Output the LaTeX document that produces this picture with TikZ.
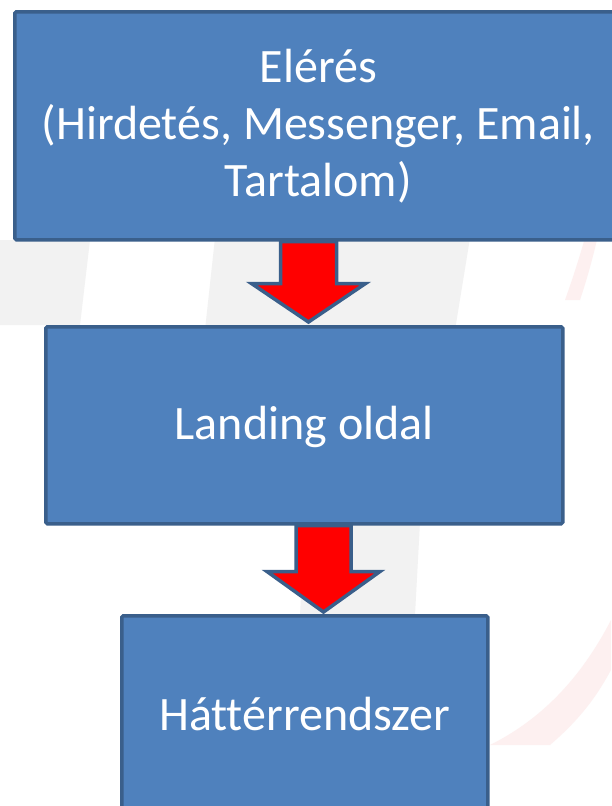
\documentclass[tikz,border=0pt]{standalone}
\usepackage{fontspec}
\setmainfont{Carlito}[Ligatures=NoCommon]
\usetikzlibrary{calc}
\definecolor{boxfill}{HTML}{4F81BD}
\definecolor{boxline}{HTML}{3A5F8B}
\definecolor{wmgray}{HTML}{F2F2F2}
\definecolor{wmpink}{HTML}{FDF0F0}
\tikzset{
  blockbox/.style={draw=boxline, line width=3.5pt, fill=boxfill, rounded corners=1.5pt,
    text=white, align=center, inner sep=0pt, anchor=north west,
    font=\fontsize{48}{57}\selectfont},
  blockarrow/.style={draw=boxline, line width=3.5pt, fill=red, line join=miter},
}
\begin{document}
\begin{tikzpicture}[x=1pt,y=-1pt]
\useasboundingbox (0,0) rectangle (611,806);
\fill[white] (0,0) rectangle (611,806);
% faint watermark
\fill[wmgray] (215,238) -- (470,238) -- (455,330) -- (205,330) -- cycle;
\fill[wmgray] (0,240) -- (90,240) -- (80,325) -- (0,325) -- cycle;
\fill[wmgray] (305,522) -- (420,522) -- (415,615) -- (300,615) -- cycle;
\fill[wmpink] (611,120) .. controls (600,180) and (590,230) .. (565,300) -- (580,300) .. controls (600,240) and (607,190) .. (611,160) -- cycle;
\fill[wmpink] (611,620) .. controls (580,680) and (540,720) .. (490,745) -- (550,745) .. controls (585,715) and (600,690) .. (611,670) -- cycle;
% boxes
\node[blockbox, minimum width=607pt, minimum height=228pt] (b1) at (13,10)
  {Elérés\\(Hirdetés, Messenger, Email,\\Tartalom)};
\node[blockbox, minimum width=517pt, minimum height=197pt, text depth=4pt] (b2) at (44,325) {Landing oldal};
\node[blockbox, minimum width=366pt, minimum height=196pt] (b3) at (120,614) {Háttérrendszer};
% arrows
\coordinate (a1) at (308.5,0);
\coordinate (a2) at (323.5,0);
\draw[blockarrow] ($(a1|-b1.south)+(-28,0)$) -- ($(a1|-b1.south)+(28,0)$)
  -- ($(a1|-b1.south)+(28,42)$) -- ($(a1|-b1.south)+(57,42)$)
  -- ($(a1|-b2.north)+(0,-3)$) -- ($(a1|-b1.south)+(-57,42)$)
  -- ($(a1|-b1.south)+(-28,42)$) -- cycle;
\draw[blockarrow] ($(a2|-b2.south)+(-27.5,0)$) -- ($(a2|-b2.south)+(27.5,0)$)
  -- ($(a2|-b2.south)+(27.5,46)$) -- ($(a2|-b2.south)+(56.5,46)$)
  -- ($(a2|-b3.north)+(0,-2)$) -- ($(a2|-b2.south)+(-56.5,46)$)
  -- ($(a2|-b2.south)+(-27.5,46)$) -- cycle;
\end{tikzpicture}
\end{document}
